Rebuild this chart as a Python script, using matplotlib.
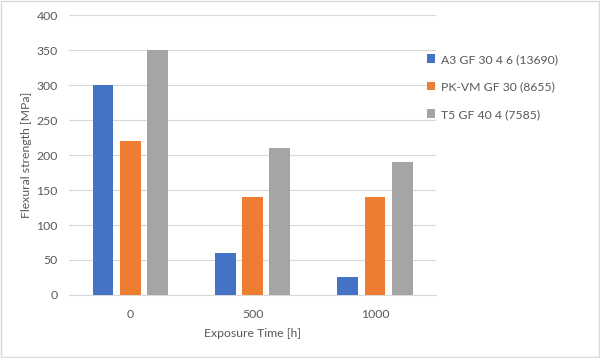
import numpy as np
import matplotlib
matplotlib.use("Agg")
import matplotlib.pyplot as plt
from matplotlib.patches import Rectangle

categories = ["0", "500", "1000"]
series_names = ["A3 GF 30 4 6 (13690)", "PK-VM GF 30 (8655)", "T5 GF 40 4 (7585)"]
a3_values = [300, 60, 25]
pkvm_values = [220, 140, 140]
t5_values = [350, 210, 190]
colors = ["#4472C4", "#ED7D31", "#A5A5A5"]

plt.rcParams['font.family'] = ['Lato', 'DejaVu Sans']
text_col = "#595959"

fig = plt.figure(figsize=(6, 3.58), dpi=100)
ax = fig.add_axes([0.115, 0.176, 0.612, 0.782])

x = np.arange(len(categories))
width = 0.171
offset = 0.222
for i, (vals, name) in enumerate(zip([a3_values, pkvm_values, t5_values], series_names)):
    ax.bar(x + (i - 1) * offset, vals, width, color=colors[i], label=name, zorder=3)

ax.set_xlim(-0.5, 2.5)
ax.set_ylim(0, 400)
ax.set_yticks(range(0, 401, 50))
ax.set_xticks(x)
ax.set_xticklabels(categories)
ax.grid(axis="y", color="#d9d9d9", linewidth=0.8, zorder=0)
for s in ["top", "right", "left"]:
    ax.spines[s].set_visible(False)
ax.spines["bottom"].set_color("#d9d9d9")
ax.tick_params(axis="both", length=0, colors=text_col, labelsize=8.8)
ax.tick_params(axis="x", pad=10)
ax.tick_params(axis="y", pad=8)
ax.set_xlabel("Exposure Time [h]", color=text_col, fontsize=8.8, labelpad=6)
ax.set_ylabel("Flexural strength [MPa]", color=text_col, fontsize=8.8, labelpad=3)

fig.legend(loc="upper left", bbox_to_anchor=(0.693, 0.88), frameon=False,
           fontsize=8.8, labelcolor=text_col, handlelength=0.7, handleheight=0.7,
           handletextpad=0.45, labelspacing=1.35)

fig.patches.append(Rectangle((0.002, 0.002), 0.996, 0.996, transform=fig.transFigure,
                             fill=False, edgecolor="#d9d9d9", linewidth=1))

fig.savefig("out.png", dpi=100)
